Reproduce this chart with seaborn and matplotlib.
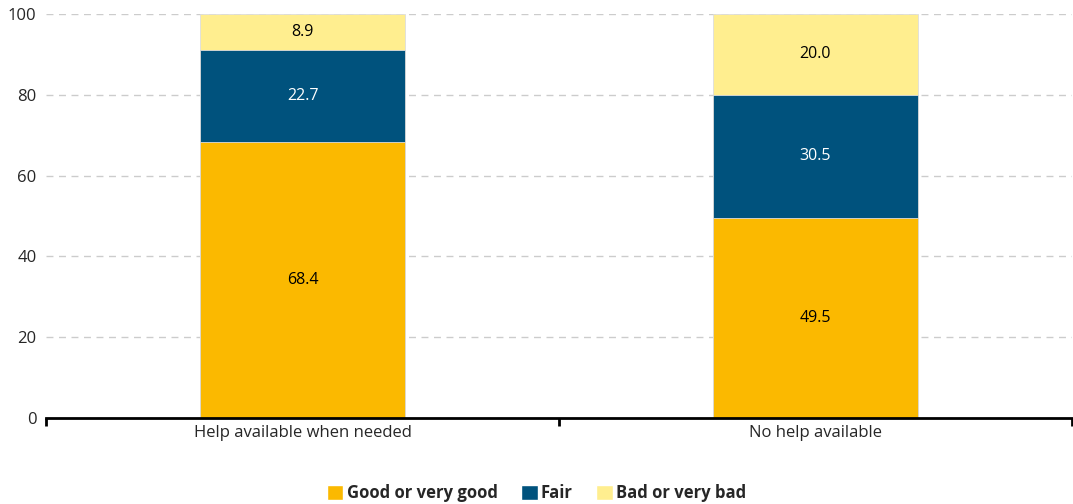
import numpy as np
import pandas as pd
import matplotlib
matplotlib.use('Agg')
import matplotlib.pyplot as plt
import seaborn as sns
from matplotlib.patches import Patch

categories = ['Help available when needed', 'No help available']
good = [68.4, 49.5]
fair = [22.7, 30.5]
bad = [8.9, 20.0]
series = ['Good or very good', 'Fair', 'Bad or very bad']
colors = ['#FBB900', '#00527D', '#FFEE8F']
text_colors = ['black', 'white', 'black']

sns.set_style('white')
plt.rcParams['font.family'] = ['Open Sans', 'DejaVu Sans']

df = pd.DataFrame({'cat': categories, 'good': good, 'fair': fair, 'bad': bad})
df['c1'] = df['good']
df['c2'] = df['good'] + df['fair']
df['c3'] = df['c2'] + df['bad']

fig = plt.figure(figsize=(10.73, 5.04), dpi=100)
ax = fig.add_axes([0.043, 0.171, 0.956, 0.801])

# draw tallest first so shorter stacks sit on top
for col, c in zip(['c3', 'c2', 'c1'], colors[::-1]):
    sns.barplot(data=df, x='cat', y=col, color=c, width=0.4, ax=ax,
                edgecolor='#dddddd', linewidth=0.6, saturation=1)

bottoms = np.zeros(len(categories))
for vals, tc in zip([good, fair, bad], text_colors):
    for i, v in enumerate(vals):
        ax.text(i, bottoms[i] + v / 2, f'{v:.1f}', ha='center', va='center',
                fontsize=11.5, color=tc)
    bottoms += np.array(vals)

ax.set_ylim(0, 100)
ax.set_xlim(-0.5, 1.5)
ax.set_yticks([0, 20, 40, 60, 80, 100])
ax.yaxis.grid(True, linestyle=(0, (5, 4)), color='#cccccc', linewidth=1)
ax.set_axisbelow(True)
ax.set_xlabel('')
ax.set_ylabel('')
for s in ['top', 'right', 'left']:
    ax.spines[s].set_visible(False)
ax.spines['bottom'].set_linewidth(2)
ax.spines['bottom'].set_color('black')
ax.tick_params(axis='y', left=False, length=0, labelsize=12, pad=7)
ax.tick_params(axis='x', which='major', bottom=False, length=0, labelsize=12, pad=5)
ax.set_xticks([-0.5, 0.5, 1.5], minor=True)
ax.tick_params(axis='x', which='minor', bottom=True, length=6, width=2,
               direction='out', color='black')

handles = [Patch(facecolor=c, label=l) for c, l in zip(colors, series)]
fig.legend(handles=handles, loc='lower center', bbox_to_anchor=(0.5, -0.026), ncol=3,
           frameon=False, prop={'weight': 'bold', 'size': 12},
           handlelength=1.0, handleheight=1.0, handletextpad=0.2, columnspacing=1.4)

fig.savefig('out.png', dpi=100)
